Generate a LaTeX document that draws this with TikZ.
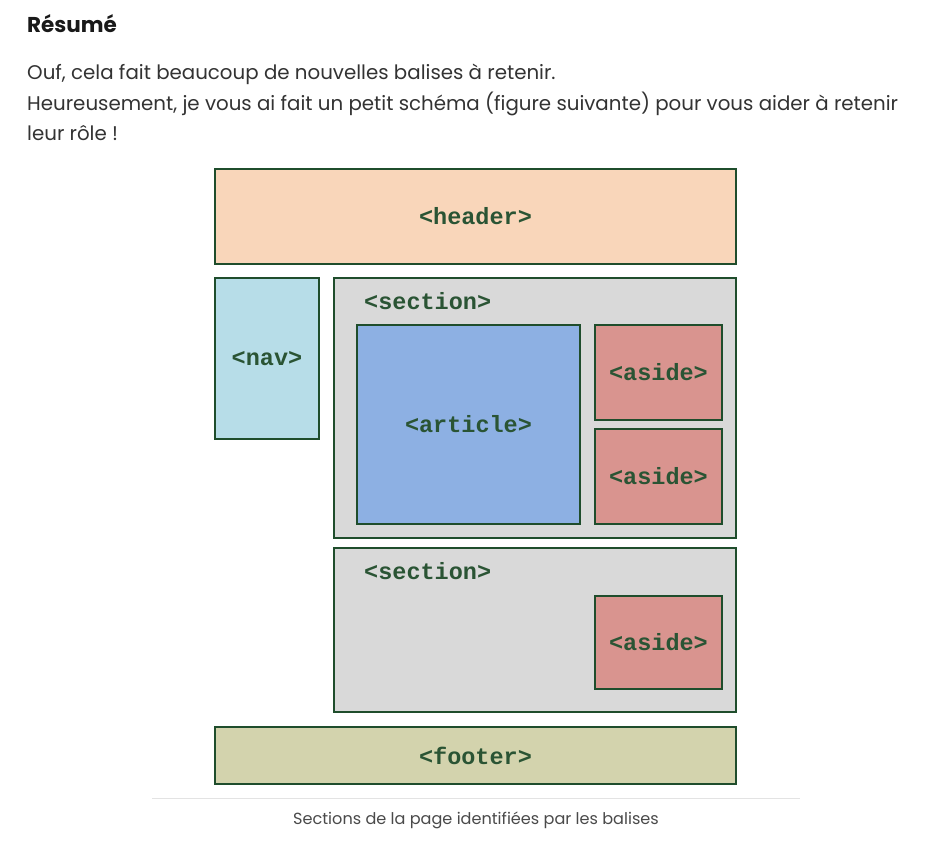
\documentclass[tikz,border=0pt]{standalone}
\usepackage{fontspec}
\setmainfont{Poppins}
\newfontfamily\codefont{Liberation Mono}
\definecolor{bord}{HTML}{1F4D2C}
\definecolor{lbl}{HTML}{2A5434}
\definecolor{hdr}{HTML}{F9D6BA}
\definecolor{navc}{HTML}{B7DDE8}
\definecolor{secc}{HTML}{D9D9D9}
\definecolor{artc}{HTML}{8DB0E3}
\definecolor{asic}{HTML}{D9948F}
\definecolor{ftc}{HTML}{D3D3AD}
\definecolor{bodyc}{HTML}{333333}
\definecolor{capc}{HTML}{4A4A4A}
\definecolor{rulec}{HTML}{E3E3E3}
\tikzset{
  blk/.style={draw=bord, line width=1.1pt, inner sep=0pt, font=\codefont\bfseries\fontsize{23.5}{25}\selectfont, text=lbl},
  tag/.style={inner sep=0pt, font=\codefont\bfseries\fontsize{23.5}{25}\selectfont, text=lbl},
  para/.style={anchor=base west, inner sep=0pt, font=\fontsize{19.8}{22}\selectfont, text=bodyc},
}
\begin{document}
\begin{tikzpicture}[x=1pt,y=-1pt]
\useasboundingbox (0,0) rectangle (951,849);
\fill[white] (0,0) rectangle (951,849);
% text
\node[para, font=\bfseries\fontsize{21.5}{24}\selectfont, text=black!90] (title) at (27,32) {Résumé};
\node[para] (l1) at (27,79) {Ouf, cela fait beaucoup de nouvelles balises à retenir.};
\node[para] (l2) at (27,110) {Heureusement, je vous ai fait un petit schéma (figure suivante) pour vous aider à retenir};
\node[para] (l3) at (27,140) {leur rôle !};
% boxes
\node[blk, fill=hdr, minimum width=521pt, minimum height=95pt] (header) at (475.5,216.5) {<header>};
\node[blk, fill=navc, minimum width=104pt, minimum height=161pt] (nav) at (267,358.5) {<nav>};
\node[blk, fill=secc, minimum width=402pt, minimum height=260pt] (sec1) at (535,408) {};
\node[tag, anchor=west] (sec1lbl) at (364,301) {<section>};
\node[blk, fill=artc, minimum width=223pt, minimum height=199pt] (article) at (468.5,424.5) {<article>};
\node[blk, fill=asic, minimum width=127pt, minimum height=95pt] (aside1) at (658.5,372.5) {<aside>};
\node[blk, fill=asic, minimum width=127pt, minimum height=95pt] (aside2) at (658.5,476.5) {<aside>};
\node[blk, fill=secc, minimum width=402pt, minimum height=164pt] (sec2) at (535,630) {};
\node[tag, anchor=west] (sec2lbl) at (364,571) {<section>};
\node[blk, fill=asic, minimum width=127pt, minimum height=93pt] (aside3) at (658.5,642.5) {<aside>};
\node[blk, fill=ftc, minimum width=521pt, minimum height=57pt] (footer) at (475.5,755.5) {<footer>};
% caption
\draw[rulec, line width=1pt] (152,798) -- (800,798);
\node[inner sep=0pt, font=\fontsize{16.1}{18}\selectfont, text=capc, anchor=base] (cap) at (476,824) {Sections de la page identifiées par les balises};
\end{tikzpicture}
\end{document}
